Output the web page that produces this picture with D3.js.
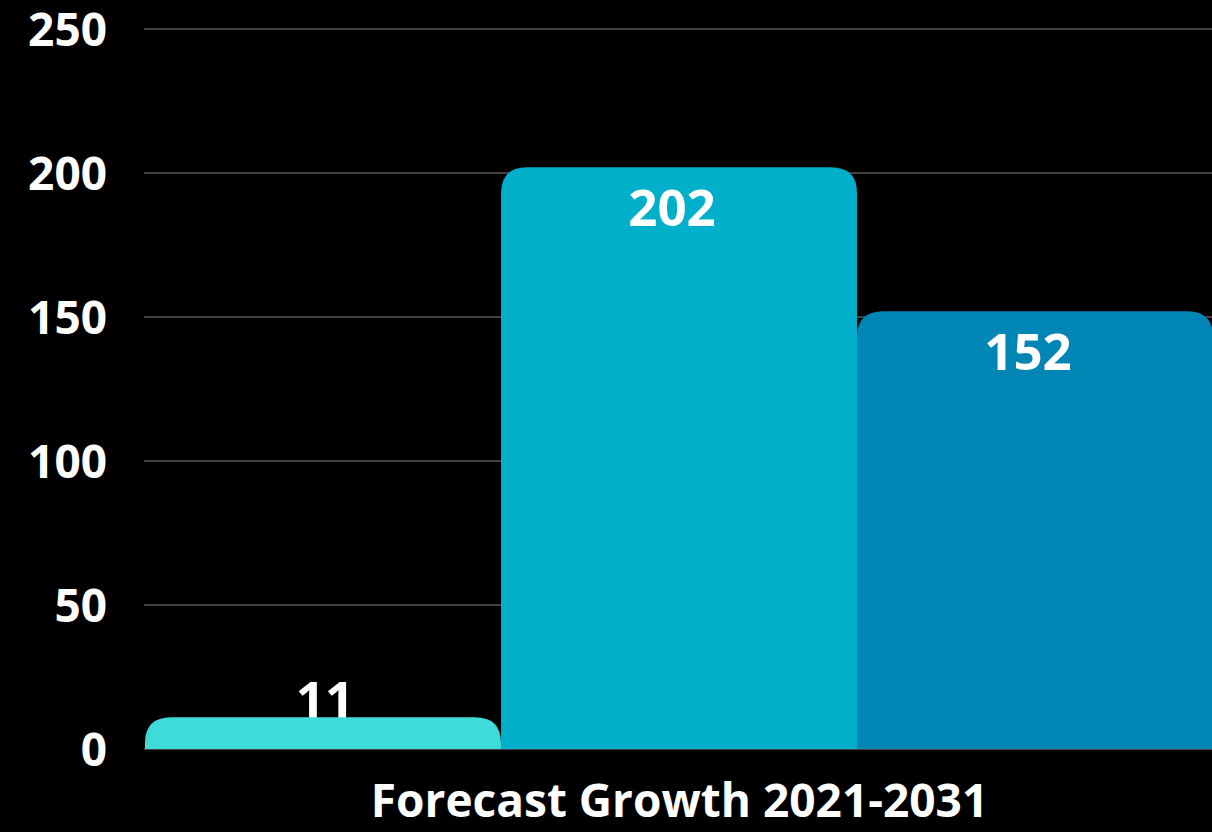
<!DOCTYPE html>
<html>
<head>
<meta charset="utf-8">
<script src="https://cdn.jsdelivr.net/npm/d3@7/dist/d3.min.js"></script>
<style>
  html, body { margin: 0; padding: 0; background: #000; }
  svg { display: block; }
  text { font-family: "Open Sans", "Noto Sans", sans-serif; font-weight: 700; fill: #fff; }
</style>
</head>
<body>
<svg id="chart" width="1212" height="832"></svg>
<script>
// Series: one group, three bars
const categories = ["A", "B", "C"];
const values = [11, 202, 152];
const barColors = ["#3fdbd8", "#00afca", "#0085b5"];
const yTicks = [0, 50, 100, 150, 200, 250];
const xTitle = "Forecast Growth 2021-2031";

const W = 1212, H = 832;
const margin = { left: 145, right: 0, top: 29, bottom: 83 };

const svg = d3.select("#chart");
svg.append("rect").attr("width", W).attr("height", H).attr("fill", "#000");

const x = d3.scaleBand()
  .domain(categories)
  .range([margin.left, W - margin.right + 1])
  .padding(0);

const y = d3.scaleLinear()
  .domain([0, 250])
  .range([H - margin.bottom, margin.top]);

// Gridlines
svg.append("g")
  .selectAll("line")
  .data(yTicks)
  .join("line")
  .attr("x1", margin.left - 1)
  .attr("x2", W)
  .attr("y1", d => y(d))
  .attr("y2", d => y(d))
  .attr("stroke", "#5a5a5a")
  .attr("stroke-width", 1.5);

// Y axis labels
const yAxis = d3.axisLeft(y).tickValues(yTicks).tickSize(0).tickPadding(0);
const gy = svg.append("g")
  .attr("transform", `translate(107,0)`)
  .call(yAxis);
gy.select(".domain").remove();
gy.selectAll("text")
  .attr("font-size", 46)
  .attr("font-family", "'Open Sans', 'Noto Sans', sans-serif")
  .attr("font-weight", 700)
  .attr("fill", "#fff")
  .attr("dy", "0.36em");

// Rounded-top bar path
function topRoundedBar(x0, y0, w, h, r) {
  r = Math.min(r, h, w / 2);
  return `M${x0},${y0 + h}` +
    `V${y0 + r}` +
    `Q${x0},${y0} ${x0 + r},${y0}` +
    `H${x0 + w - r}` +
    `Q${x0 + w},${y0} ${x0 + w},${y0 + r}` +
    `V${y0 + h}Z`;
}

const labelSize = 51;
const fitsInside = d => (y(0) - y(d.v)) > 80;
const labelData = values.map((v, i) => ({ v, c: categories[i] }));

// Labels that don't fit inside sit on top of the bar
svg.append("g")
  .selectAll("text")
  .data(labelData.filter(d => !fitsInside(d)))
  .join("text")
  .attr("x", d => x(d.c) + x.bandwidth() / 2 + 2)
  .attr("y", d => y(d.v) + 1)
  .attr("text-anchor", "middle")
  .attr("font-size", labelSize)
  .text(d => d.v);

// Bars drawn after outside labels so the bar edge trims them
svg.append("g")
  .selectAll("path")
  .data(values.map((v, i) => ({ v, c: categories[i], col: barColors[i] })))
  .join("path")
  .attr("d", d => topRoundedBar(x(d.c), y(d.v), x.bandwidth(), y(0) - y(d.v), 26))
  .attr("fill", d => d.col);

// Inside labels
svg.append("g")
  .selectAll("text")
  .data(labelData.filter(fitsInside))
  .join("text")
  .attr("x", d => x(d.c) + x.bandwidth() / 2 - 7)
  .attr("y", d => y(d.v) + 59)
  .attr("text-anchor", "middle")
  .attr("font-size", labelSize)
  .text(d => d.v);

// X axis title
svg.append("text")
  .attr("x", (margin.left + W) / 2 + 1)
  .attr("y", 817)
  .attr("text-anchor", "middle")
  .attr("font-size", 46)
  .text(xTitle);
</script>
</body>
</html>
